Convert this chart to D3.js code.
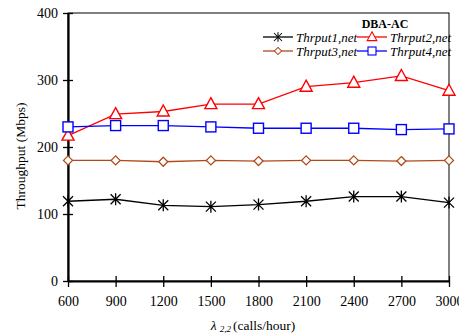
<!DOCTYPE html>
<html>
<head>
<meta charset="utf-8">
<script src="https://cdn.jsdelivr.net/npm/d3@7"></script>
<style>
  body { margin: 0; background: #fff; }
  text { font-family: "Liberation Serif", "Times New Roman", serif; }
</style>
</head>
<body>
<div id="vis"></div>
<script>
const calls = [600, 900, 1200, 1500, 1800, 2100, 2400, 2700, 3000];
const thrput1 = [119, 122, 113, 111, 114, 119, 126, 126, 117];
const thrput2 = [217, 249, 253, 264, 264, 290, 296, 306, 284];
const thrput3 = [180, 180, 178, 180, 179, 180, 180, 179, 180];
const thrput4 = [230, 232, 232, 230, 228, 228, 228, 226, 227];
const yTicks = [0, 100, 200, 300, 400];

const series = [
  {name: "Thrput1,net", values: thrput1, color: "#000000", marker: "star"},
  {name: "Thrput2,net", values: thrput2, color: "#ff0000", marker: "tri"},
  {name: "Thrput3,net", values: thrput3, color: "#b04a1a", marker: "diamond"},
  {name: "Thrput4,net", values: thrput4, color: "#0000ff", marker: "square"}
];

const W = 459, H = 335;
const M = {left: 68, right: 10, top: 13, bottom: 54};
const IW = W - M.left - M.right, IH = H - M.top - M.bottom;

const svg = d3.select("#vis").append("svg")
  .attr("width", W).attr("height", H);
const g = svg.append("g").attr("transform", `translate(${M.left},${M.top})`);

const x = d3.scaleLinear().domain([600, 3000]).range([0, IW]);
const y = d3.scaleLinear().domain([0, 400]).range([IH, 0]);

// frame (top / right thin)
g.append("rect").attr("width", IW).attr("height", IH)
  .attr("fill", "none").attr("stroke", "#000").attr("stroke-width", 1);

// axes
const xAx = g.append("g").attr("transform", `translate(0,${IH})`)
  .call(d3.axisBottom(x).tickValues(calls).tickFormat(d3.format("d")).tickSize(6).tickSizeOuter(0));
xAx.selectAll(".tick line").attr("y1", -5).attr("y2", 6).attr("stroke-width", 1.3);
xAx.select(".domain").attr("stroke-width", 2.2);
xAx.selectAll("text").attr("font-size", 14).attr("fill", "#000").attr("dy", "0.8em").attr("y", 14);

const yAx = g.append("g")
  .call(d3.axisLeft(y).tickValues(yTicks).tickSize(5).tickSizeOuter(0));
yAx.selectAll(".tick line").attr("x1", -5).attr("x2", 5).attr("stroke-width", 1.3);
yAx.select(".domain").attr("stroke-width", 2.2);
yAx.selectAll("text").attr("font-size", 14).attr("fill", "#000").attr("x", -10);

// axis titles
svg.append("text")
  .attr("transform", `translate(25,${M.top + IH / 2 + 9}) rotate(-90)`)
  .attr("text-anchor", "middle").attr("font-size", 13.5).text("Throughput (Mbps)");

const xt = svg.append("text").attr("x", 253).attr("y", 330)
  .attr("text-anchor", "middle").attr("font-size", 13.5);
xt.append("tspan").attr("font-style", "italic").text("λ");
xt.append("tspan").attr("font-size", 9).attr("font-style", "italic").attr("dx", 3).attr("dy", 2).text("2,2");
xt.append("tspan").attr("dy", -2).attr("dx", 2).text("(calls/hour)");

function drawMarker(sel, type, color) {
  if (type === "star") {
    sel.append("path").attr("d", "M-5,-5L5,5M-5,5L5,-5M0,-6L0,6")
      .attr("stroke", color).attr("stroke-width", 1.3).attr("fill", "none");
  } else if (type === "tri") {
    sel.append("path").attr("d", "M0,-6.5L6,4.5L-6,4.5Z")
      .attr("stroke", color).attr("stroke-width", 1.4).attr("fill", "#fff");
  } else if (type === "diamond") {
    sel.append("path").attr("d", "M0,-4.5L4.5,0L0,4.5L-4.5,0Z")
      .attr("stroke", color).attr("stroke-width", 1.3).attr("fill", "#fff");
  } else {
    sel.append("rect").attr("x", -5).attr("y", -5).attr("width", 10).attr("height", 10)
      .attr("stroke", color).attr("stroke-width", 1.4).attr("fill", "#fff");
  }
}

const line = d3.line().x((d, i) => x(calls[i])).y(d => y(d));

series.forEach(s => {
  g.append("path").datum(s.values).attr("d", line)
    .attr("fill", "none").attr("stroke", s.color).attr("stroke-width", 1.3);
  s.values.forEach((v, i) => {
    const m = g.append("g").attr("transform", `translate(${x(calls[i])},${y(v)})`);
    drawMarker(m, s.marker, s.color);
  });
});

// legend
svg.append("text").attr("x", 385).attr("y", 28).attr("text-anchor", "middle")
  .attr("font-size", 12).attr("font-weight", "bold").text("DBA-AC");

const legPos = [[263, 37], [357, 37], [263, 51], [357, 51]];
series.forEach((s, i) => {
  const [lx, ly] = legPos[i];
  const lg = svg.append("g").attr("transform", `translate(${lx},${ly})`);
  lg.append("line").attr("x1", 0).attr("x2", 30).attr("stroke", s.color).attr("stroke-width", 1.3);
  const m = lg.append("g").attr("transform", "translate(15,0) scale(0.8)");
  drawMarker(m, s.marker, s.color);
  lg.append("text").attr("x", 33).attr("y", 4.5).attr("font-size", 13)
    .attr("font-style", "italic").text(s.name);
});
</script>
</body>
</html>
